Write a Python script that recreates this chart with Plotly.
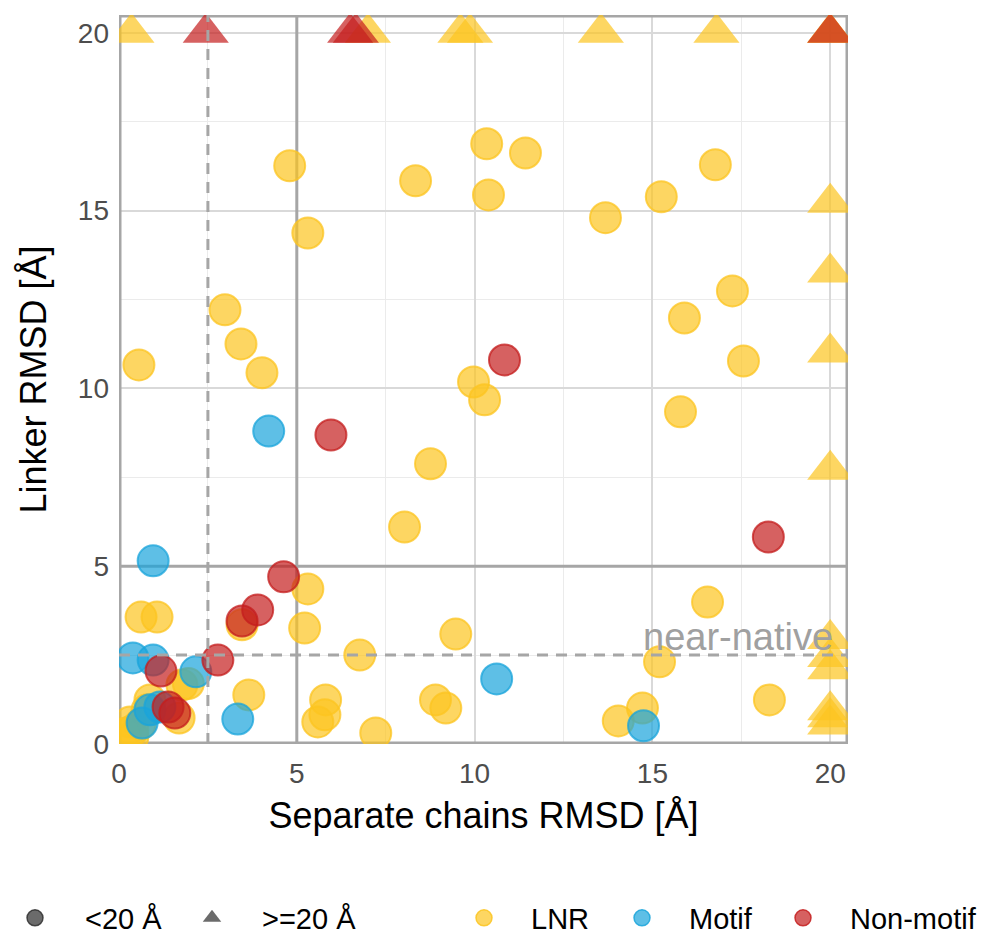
import plotly.graph_objects as go

# ---------------- data (values >= 20 are capped at 20 and drawn as triangles) -------------
CAP = 20.0

lnr_x = [4.80, 10.34, 11.43, 8.34, 10.39, 5.31, 13.68, 15.25, 16.77, 2.98, 3.43, 4.02, 0.56,
         17.25, 15.90, 17.56, 9.97, 10.28, 15.79, 8.76, 8.03, 16.55, 5.31, 5.22, 9.47, 6.77,
         15.20, 0.62, 1.07, 3.46, 3.65, 5.81, 5.79, 5.59, 7.22, 8.90, 9.19, 14.04, 14.72,
         18.29, 1.77, 1.69, 0.31, 0.39, 0.39, 0.79, 0.87, 0.17, 0.59, 1.95,
         0.35, 7.00, 9.60, 9.87, 13.55, 16.80, 20.0, 20.0,
         20.0, 20.0, 20.0, 20.0, 20.0, 20.0, 20.0, 20.0, 20.0, 20.0]
lnr_y = [16.26, 16.88, 16.62, 15.84, 15.44, 14.37, 14.80, 15.39, 16.29, 12.21, 11.25, 10.44, 10.66,
         12.74, 11.98, 10.77, 10.18, 9.68, 9.34, 7.88, 6.10, 3.99, 4.36, 3.26, 3.09, 2.50,
         2.31, 3.57, 3.57, 3.35, 1.38, 1.24, 0.82, 0.62, 0.31, 1.24, 1.01, 0.65, 1.01,
         1.24, 1.66, 0.73, 0.62, 0.39, 0.20, 0.96, 1.24, 0.30, 0.55, 1.70,
         20.0, 20.0, 20.0, 20.0, 20.0, 20.0, 20.0, 20.0,
         15.22, 13.26, 11.01, 7.71, 2.95, 2.45, 2.10, 0.95, 0.75, 0.55]

motif_x = [0.96, 0.39, 0.96, 2.16, 3.34, 0.65, 0.87, 1.15, 4.21, 10.62, 14.75]
motif_y = [5.15, 2.42, 2.36, 2.03, 0.70, 0.59, 0.96, 1.04, 8.80, 1.83, 0.51]

nonmotif_x = [4.63, 3.90, 3.46, 2.78, 1.18, 1.38, 1.57, 5.96, 10.84, 18.26,
              2.44, 6.50, 6.66, 20.0]
nonmotif_y = [4.70, 3.77, 3.46, 2.36, 2.05, 1.04, 0.87, 8.69, 10.80, 5.82,
              20.0, 20.0, 20.0, 20.0]

categories = ["LNR", "Motif", "Non-motif"]
series = {"LNR": (lnr_x, lnr_y), "Motif": (motif_x, motif_y), "Non-motif": (nonmotif_x, nonmotif_y)}
shape_labels = ["<20 Å", ">=20 Å"]

x_ticks = [0, 5, 10, 15, 20]
y_ticks = [0, 5, 10, 15, 20]
minor_ticks = [2.5, 7.5, 12.5, 17.5]
axis_max = 20.5
good_cut = 5.0          # solid reference lines
near_native_cut = 2.5   # dashed reference lines

# ---------------- style ----------------
rgb = {"LNR": (252, 196, 32), "Motif": (26, 164, 219), "Non-motif": (196, 30, 30)}
ALPHA = 0.7
FONT = "Liberation Sans, Arial, Helvetica, sans-serif"
PLOT_L, PLOT_W = 119, 729


def rgba(c, a):
    return "rgba(%d,%d,%d,%.2f)" % (c[0], c[1], c[2], a)


def px_to_paper(px):
    return (px - PLOT_L) / PLOT_W


fig = go.Figure()

for cat in categories:
    xs, ys = series[cat]
    cx = [x for x, y in zip(xs, ys) if x < CAP and y < CAP]
    cy = [y for x, y in zip(xs, ys) if x < CAP and y < CAP]
    tx = [x for x, y in zip(xs, ys) if not (x < CAP and y < CAP)]
    ty = [y for x, y in zip(xs, ys) if not (x < CAP and y < CAP)]
    fig.add_trace(go.Scatter(
        x=cx, y=cy, mode="markers", showlegend=False, hoverinfo="skip",
        marker=dict(symbol="circle", size=31, color=rgba(rgb[cat], ALPHA),
                    line=dict(color=rgba(rgb[cat], 0.75), width=2))))
    if tx:
        fig.add_trace(go.Scatter(
            x=tx, y=ty, mode="markers", showlegend=False, hoverinfo="skip",
            marker=dict(symbol="triangle-up", size=40, color=rgba(rgb[cat], ALPHA),
                        line=dict(width=0))))

# legend entries: one small legend per entry so each can be placed like the original
legend_starts = {"<20 Å": -15, ">=20 Å": 162, "LNR": 437, "Motif": 595, "Non-motif": 756}
legend_names = {"<20 Å": "legend", ">=20 Å": "legend2", "LNR": "legend3",
                "Motif": "legend4", "Non-motif": "legend5"}
item_w = {"<20 Å": 90, ">=20 Å": 90, "LNR": 84, "Motif": 84, "Non-motif": 84}

for lab, sym in zip(shape_labels, ["circle", "triangle-up"]):
    fig.add_trace(go.Scatter(
        x=[None], y=[None], mode="markers", name=lab, legend=legend_names[lab],
        marker=dict(symbol=sym, size=16, color="rgba(70,70,70,0.8)",
                    line=dict(color="rgba(40,40,40,0.8)", width=1.5 if sym == "circle" else 0))))
for cat in categories:
    fig.add_trace(go.Scatter(
        x=[None], y=[None], mode="markers", name=cat, legend=legend_names[cat],
        marker=dict(symbol="circle", size=16, color=rgba(rgb[cat], ALPHA),
                    line=dict(color=rgba(rgb[cat], 0.85), width=1.5))))

legend_layout = {}
for lab, lname in legend_names.items():
    legend_layout[lname] = dict(
        orientation="h", xref="paper", yref="container",
        x=px_to_paper(legend_starts[lab]), y=25 / 943,
        xanchor="left", yanchor="middle", font=dict(size=29, color="black"),
        itemwidth=item_w[lab], bgcolor="rgba(0,0,0,0)")

dark = "#a6a6a6"
shapes = [
    dict(type="rect", xref="x", yref="y", x0=0, x1=axis_max, y0=0, y1=axis_max,
         line=dict(color=dark, width=5), layer="between"),
    dict(type="line", xref="x", yref="y", x0=good_cut, x1=good_cut, y0=0, y1=axis_max,
         line=dict(color=dark, width=3), layer="between"),
    dict(type="line", xref="x", yref="y", x0=0, x1=axis_max, y0=good_cut, y1=good_cut,
         line=dict(color=dark, width=3), layer="between"),
    dict(type="line", xref="x", yref="y", x0=near_native_cut, x1=near_native_cut, y0=0, y1=axis_max,
         line=dict(color="#a6a6a6", width=3, dash="11px,8px"), layer="above"),
    dict(type="line", xref="x", yref="y", x0=0, x1=axis_max, y0=near_native_cut, y1=near_native_cut,
         line=dict(color="#a6a6a6", width=3, dash="11px,8px"), layer="above"),
]

axis_common = dict(
    range=[0, axis_max], showgrid=True, gridcolor="#d9d9d9", gridwidth=2.4,
    zeroline=False, showline=False, ticks="",
    tickfont=dict(family=FONT, size=28, color="#4d4d4d"),
    minor=dict(tickvals=minor_ticks, showgrid=True, gridcolor="#ebebeb", gridwidth=1.3),
)

fig.update_layout(
    width=987, height=943,
    margin=dict(l=119, r=139, t=15, b=199, autoexpand=False),
    paper_bgcolor="white", plot_bgcolor="white",
    font=dict(family=FONT, color="black"),
    shapes=shapes,
    xaxis=dict(**axis_common, tickvals=x_ticks, ticklabelstandoff=10,
               title=dict(text="Separate chains RMSD [Å]", font=dict(size=36, color="black"), standoff=14)),
    yaxis=dict(**axis_common, tickvals=y_ticks, ticklabelstandoff=9,
               title=dict(text="Linker RMSD [Å]", font=dict(size=36, color="black"), standoff=20)),
    annotations=[dict(x=CAP, y=near_native_cut, xref="x", yref="y", text="near-native",
                      showarrow=False, xanchor="right", yanchor="bottom", yshift=-5, xshift=5,
                      font=dict(family=FONT, size=38, color="#a0a0a0"))],
    **legend_layout,
)

fig.write_html("out.html")
